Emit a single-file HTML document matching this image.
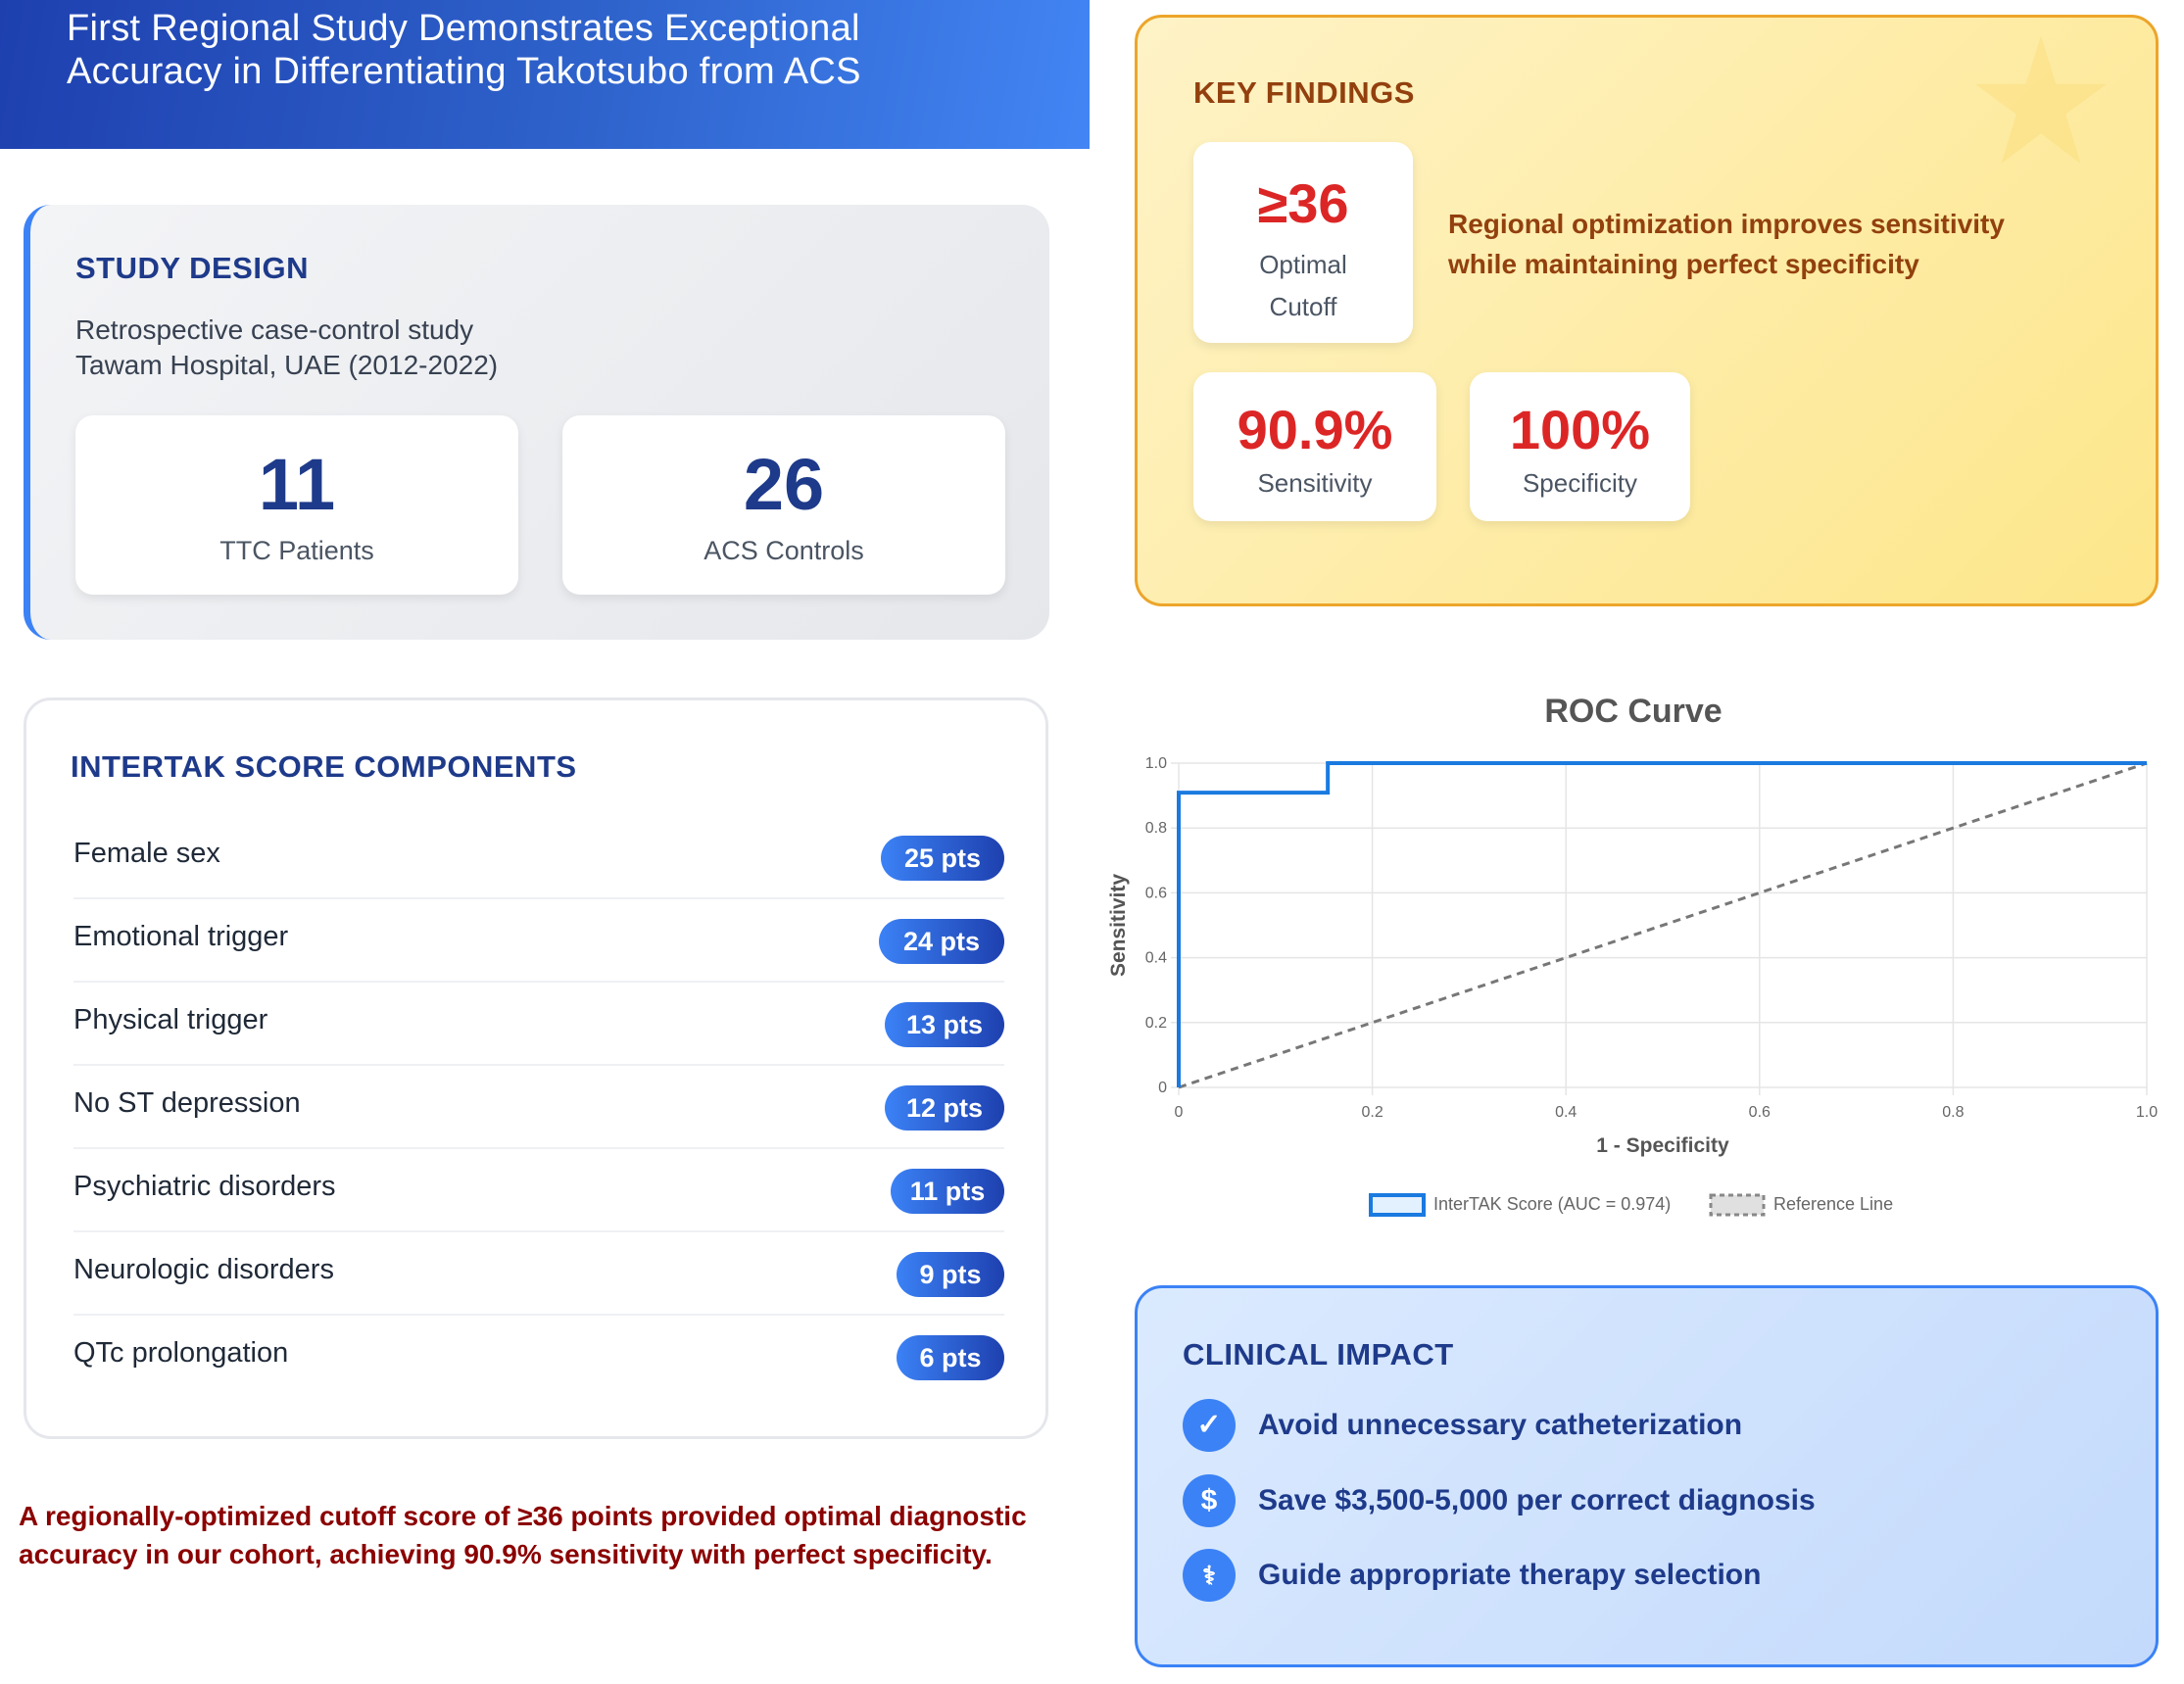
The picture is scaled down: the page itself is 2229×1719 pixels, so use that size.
<!DOCTYPE html>
<html><head><meta charset="utf-8">
<style>
*{box-sizing:border-box;margin:0;padding:0}
body{width:2229px;height:1719px;background:#fff;font-family:"Liberation Sans",sans-serif;position:relative;overflow:hidden}
.abs{position:absolute}
#header{left:0;top:0;width:1112px;height:152px;background:linear-gradient(100deg,#1e40af 0%,#2f63cc 55%,#4285f4 100%)}
#header h1{position:absolute;left:68px;top:7px;color:#fff;font-size:38px;font-weight:normal;line-height:44px;letter-spacing:0.3px}
#study{left:24px;top:209px;width:1047px;height:444px;border-radius:28px;background:linear-gradient(135deg,#f3f4f6,#e5e7eb);border-left:7px solid #3b82f6}
.sec-title{position:absolute;font-size:31px;font-weight:bold;color:#1e3a8a;letter-spacing:0.5px}
.stat{position:absolute;background:#fff;border-radius:18px;box-shadow:0 4px 10px rgba(0,0,0,0.08);text-align:center}
.stat .num{position:absolute;left:0;right:0;font-weight:bold;color:#1e3a8a}
.stat .lbl{position:absolute;left:0;right:0;color:#4b5563;font-size:27px}
#comp{left:24px;top:712px;width:1046px;height:757px;border:3px solid #e5e7eb;border-radius:28px;background:#fff}
.row{position:absolute;left:48px;width:950px;height:85px;border-bottom:2px solid #eef0f3}
.row span.n{position:absolute;left:0;top:22px;font-size:29px;color:#1f2937}
.badge{position:absolute;right:0;top:20px;height:46px;border-radius:23px;background:linear-gradient(90deg,#3b82f6,#1e40af);color:#fff;font-weight:bold;font-size:27px;line-height:46px;text-align:center}
#foot{left:19px;top:1528px;font-size:28px;font-weight:bold;color:#8b0000;line-height:39px}
#key{left:1158px;top:15px;width:1045px;height:604px;border:3px solid #eca52a;border-radius:28px;background:linear-gradient(135deg,#fef3c7,#fde68a)}
.kbox{position:absolute;background:#fff;border-radius:18px;box-shadow:0 4px 10px rgba(0,0,0,0.08);text-align:center}
.kbox .num{position:absolute;left:0;right:0;font-weight:bold;color:#dc2626}
.kbox .lbl{position:absolute;left:0;right:0;color:#4b5563;font-size:26px}
#impact{left:1158px;top:1312px;width:1045px;height:390px;border:3px solid #3b82f6;border-radius:28px;background:linear-gradient(135deg,#dbeafe,#c3dafc)}
.item{position:absolute;left:46px;height:56px}
.item .ic{position:absolute;left:0;top:0;width:54px;height:54px;border-radius:50%;background:#3b82f6;color:#fff;font-weight:bold;font-size:30px;line-height:54px;text-align:center}
.item .tx{position:absolute;left:77px;top:10px;white-space:nowrap;font-size:30px;color:#1e3a8a;font-weight:600}
</style></head><body>
<div id="header" class="abs">
<h1>First Regional Study Demonstrates Exceptional<br>Accuracy in Differentiating Takotsubo from ACS</h1>
</div>

<div id="study" class="abs">
<div class="sec-title" style="left:46px;top:47px">STUDY DESIGN</div>
<div class="abs" style="left:46px;top:110px;font-size:28px;color:#374151;line-height:36px">Retrospective case-control study<br>Tawam Hospital, UAE (2012-2022)</div>
<div class="stat" style="left:46px;top:215px;width:452px;height:183px">
<div class="num" style="top:28px;font-size:74px">11</div>
<div class="lbl" style="top:123px">TTC Patients</div></div>
<div class="stat" style="left:543px;top:215px;width:452px;height:183px">
<div class="num" style="top:28px;font-size:74px">26</div>
<div class="lbl" style="top:123px">ACS Controls</div></div>
</div>

<div id="comp" class="abs">
<div class="sec-title" style="left:45px;top:50px">INTERTAK SCORE COMPONENTS</div>
<div class="row" style="top:118px"><span class="n">Female sex</span><span class="badge" style="width:126px">25 pts</span></div>
<div class="row" style="top:203px"><span class="n">Emotional trigger</span><span class="badge" style="width:128px">24 pts</span></div>
<div class="row" style="top:288px"><span class="n">Physical trigger</span><span class="badge" style="width:122px">13 pts</span></div>
<div class="row" style="top:373px"><span class="n">No ST depression</span><span class="badge" style="width:122px">12 pts</span></div>
<div class="row" style="top:458px"><span class="n">Psychiatric disorders</span><span class="badge" style="width:116px">11 pts</span></div>
<div class="row" style="top:543px"><span class="n">Neurologic disorders</span><span class="badge" style="width:110px">9 pts</span></div>
<div class="row" style="top:628px;border-bottom:none"><span class="n">QTc prolongation</span><span class="badge" style="width:110px">6 pts</span></div>
</div>

<div id="foot" class="abs">A regionally-optimized cutoff score of ≥36 points provided optimal diagnostic<br>accuracy in our cohort, achieving 90.9% sensitivity with perfect specificity.</div>

<div id="key" class="abs">
<svg class="abs" style="left:852px;top:16px" width="140" height="140" viewBox="0 0 100 100"><polygon points="50,2 61,37 98,37 68,59 79,95 50,73 21,95 32,59 2,37 39,37" fill="#f9d86e" opacity="0.35"/></svg>
<div class="sec-title" style="left:57px;top:59px;color:#92400e">KEY FINDINGS</div>
<div class="kbox" style="left:57px;top:127px;width:224px;height:205px">
<div class="num" style="top:30px;font-size:56px">≥36</div>
<div class="lbl" style="top:104px;line-height:43px">Optimal<br>Cutoff</div></div>
<div class="abs" style="left:317px;top:190px;font-size:28px;font-weight:bold;color:#92400e;line-height:41px">Regional optimization improves sensitivity<br>while maintaining perfect specificity</div>
<div class="kbox" style="left:57px;top:362px;width:248px;height:152px">
<div class="num" style="top:26px;font-size:56px">90.9%</div>
<div class="lbl" style="top:98px">Sensitivity</div></div>
<div class="kbox" style="left:339px;top:362px;width:225px;height:152px">
<div class="num" style="top:26px;font-size:56px">100%</div>
<div class="lbl" style="top:98px">Specificity</div></div>
</div>

<svg id="roc" class="abs" style="left:1108px;top:687px" width="1115" height="580"></svg>

<div id="impact" class="abs">
<div class="sec-title" style="left:46px;top:50px">CLINICAL IMPACT</div>
<div class="item" style="top:113px"><div class="ic">✓</div><div class="tx">Avoid unnecessary catheterization</div></div>
<div class="item" style="top:190px"><div class="ic">$</div><div class="tx">Save $3,500-5,000 per correct diagnosis</div></div>
<div class="item" style="top:266px"><div class="ic" style="font-size:26px">⚕</div><div class="tx">Guide appropriate therapy selection</div></div>
</div>

<script>
const fprValues=[0,0,0.154,0.154,1];
const tprValues=[0,0.909,0.909,1,1];
const refX=[0,1];
const refY=[0,1];
const xTicks=[0,0.2,0.4,0.6,0.8,1.0];
const yTicks=[0,0.2,0.4,0.6,0.8,1.0];
const xTickLabels=["0","0.2","0.4","0.6","0.8","1.0"];
const yTickLabels=["0","0.2","0.4","0.6","0.8","1.0"];

const NS="http://www.w3.org/2000/svg";
const svg=document.getElementById('roc');
const L=95,R=1083,T=92,B=423;
const sx=v=>L+v*(R-L);
const sy=v=>B-v*(B-T);
function mk(tag,attrs,parent){const e=document.createElementNS(NS,tag);for(const k in attrs)e.setAttribute(k,attrs[k]);(parent||svg).appendChild(e);return e;}

let t=mk('text',{x:559,y:50,'text-anchor':'middle','font-size':34,'font-weight':'bold',fill:'#555','font-family':'Liberation Sans, sans-serif'});
t.textContent='ROC Curve';



xTicks.forEach((v,i)=>{
  const g=mk('line',{x1:sx(v),x2:sx(v),y1:T,y2:B+8,stroke:'#e5e5e5','stroke-width':1.5});
  
  
  const lb=mk('text',{x:sx(v),y:B+30,'text-anchor':'middle','font-size':16,fill:'#666','font-family':'Liberation Sans, sans-serif'});
  lb.textContent=xTickLabels[i];
  
  
});
yTicks.forEach((v,i)=>{
  const g=mk('line',{x1:L-8,x2:R,y1:sy(v),y2:sy(v),stroke:'#e5e5e5','stroke-width':1.5});
  
  
  const lb=mk('text',{x:L-12,y:sy(v)+5,'text-anchor':'end','font-size':16,fill:'#666','font-family':'Liberation Sans, sans-serif'});
  lb.textContent=yTickLabels[i];
  
  
});

let xt=mk('text',{x:(L+R)/2,y:489,'text-anchor':'middle','font-size':21,'font-weight':'bold',fill:'#555','font-family':'Liberation Sans, sans-serif'});
xt.textContent='1 - Specificity';


let yt=mk('text',{x:0,y:0,'text-anchor':'middle','font-size':21,'font-weight':'bold',fill:'#555','font-family':'Liberation Sans, sans-serif',transform:'translate(40,'+((T+B)/2)+') rotate(-90)'});
yt.textContent='Sensitivity';



let ref=mk('polyline',{points:refX.map((x,i)=>sx(x)+','+sy(refY[i])).join(' '),fill:'none',stroke:'#777','stroke-width':3,'stroke-dasharray':'8 6'});


let roc=mk('polyline',{points:fprValues.map((x,i)=>sx(x)+','+sy(tprValues[i])).join(' '),fill:'none',stroke:'#1a7ae0','stroke-width':4});



let lb1=mk('rect',{x:291,y:533,width:54,height:20,fill:'#e3f0fd',stroke:'#1a7ae0','stroke-width':4});


let lt1=mk('text',{x:355,y:548,'font-size':18,fill:'#666','font-family':'Liberation Sans, sans-serif'});
lt1.textContent='InterTAK Score (AUC = 0.974)';


let lb2=mk('rect',{x:638,y:533,width:54,height:20,fill:'#e0e0e0',stroke:'#888','stroke-width':3,'stroke-dasharray':'5 4'});


let lt2=mk('text',{x:702,y:548,'font-size':18,fill:'#666','font-family':'Liberation Sans, sans-serif'});
lt2.textContent='Reference Line';


</script>
</body></html>
